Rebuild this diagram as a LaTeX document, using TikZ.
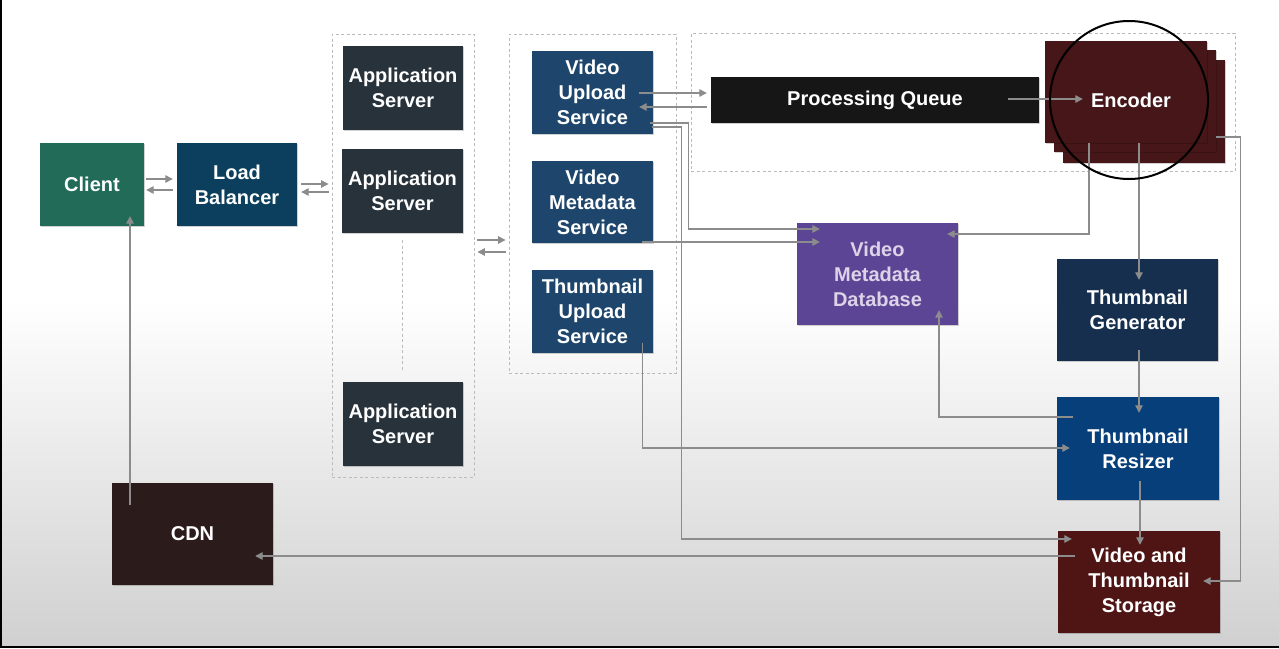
\documentclass[tikz,border=0pt]{standalone}
\usepackage{fontspec}
\setmainfont{Liberation Sans}
\usetikzlibrary{arrows.meta,calc,shadows}
\definecolor{cClient}{HTML}{216B58}
\definecolor{cLB}{HTML}{0B3F5D}
\definecolor{cApp}{HTML}{27323A}
\definecolor{cSvc}{HTML}{1E466C}
\definecolor{cPQ}{HTML}{161616}
\definecolor{cEnc}{HTML}{461619}
\definecolor{cDB}{HTML}{5D4595}
\definecolor{cDBtext}{HTML}{DCD3E8}
\definecolor{cTG}{HTML}{162F4F}
\definecolor{cTR}{HTML}{073F7A}
\definecolor{cVTS}{HTML}{4F1515}
\definecolor{cCDN}{HTML}{2B1B1B}
\definecolor{cLine}{HTML}{8C8C8C}
\definecolor{cDash}{HTML}{BBBBBB}
\definecolor{cBot}{HTML}{D0D0D0}
\begin{document}
\begin{tikzpicture}[x=1pt,y=-1pt,
  sz/.style 2 args={minimum width=#1pt, minimum height=#2pt},
  lbl/.style={text=white, font=\fontsize{20}{25}\selectfont\bfseries, align=center},
  blk/.style={fill=#1, lbl, inner sep=0pt,
    general shadow={fill=black, opacity=0.18, shadow xshift=0.8pt, shadow yshift=-0.8pt}},
  dbox/.style={draw=cDash, line width=0.9pt, dash pattern=on 3pt off 2.5pt, inner sep=0pt},
  dline/.style={draw=cDash, line width=0.9pt, dash pattern=on 3pt off 2.5pt},
  arr/.style={draw=cLine, line width=1.3pt, -{Triangle[length=7.5pt,width=7.5pt]}}
]
\useasboundingbox (0,0) rectangle (1279,648);
% background
\fill[white] (0,0) rectangle (1279,648);
\shade[top color=white, bottom color=cBot] (0,300) rectangle (1279,646);
\fill[black] (0,0) rectangle (2,648);
\fill[black] (0,645.5) rectangle (1279,648);

% dashed groups
\node[dbox, sz={142}{443}] (appbox) at (403,255.5) {};
\node[dbox, sz={167}{339}] (svcbox) at (592.5,203.5) {};
\node[dbox, sz={544}{138}] (encbox) at (963,102.5) {};

% boxes
\node[blk=cClient, sz={104}{83}] (client) at (92,184.5) {Client};
\node[blk=cLB, sz={120}{83}] (lb) at (237,184.5) {Load\\Balancer};
\node[blk=cApp, sz={120}{84}] (as1) at (403,88) {Application\\Server};
\node[blk=cApp, sz={121}{84}] (as2) at (402.5,191) {Application\\Server};
\node[blk=cApp, sz={120}{84}] (as3) at (403,424) {Application\\Server};
\draw[dline] ($(as2.south)+(-0.5,7)$) -- ($(as3.north)+(-1,-12)$);

\node[blk=cSvc, sz={121}{83}] (vus) at (592.5,92.5) {Video\\Upload\\Service};
\node[blk=cSvc, sz={121}{82}] (vms) at (592.5,202) {Video\\Metadata\\Service};
\node[blk=cSvc, sz={121}{83}] (tus) at (592.5,311.5) {Thumbnail\\Upload\\Service};

\node[blk=cPQ, sz={328}{46}] (pq) at (875,100) {Processing Queue};

\node[blk=cEnc, sz={162}{103}] (encC) at (1144,111.5) {};
\node[blk=cEnc, sz={162}{102}] (encB) at (1135,101) {};
\node[blk=cEnc, sz={162}{102}] (encA) at (1126,92) {};
\node[lbl, inner sep=0pt] (enc) at (1131,100) {Encoder};

\node[blk=cDB, text=cDBtext, sz={161}{102}] (vmdb) at (877.5,274) {Video\\Metadata\\Database};
\node[blk=cTG, sz={161}{102}] (tg) at (1137.5,310) {Thumbnail\\Generator};
\node[blk=cTR, sz={162}{103}] (tr) at (1138,448.5) {Thumbnail\\Resizer};
\node[blk=cVTS, sz={162}{102}] (vts) at (1139,582) {Video and\\Thumbnail\\Storage};
\node[blk=cCDN, sz={161}{102}] (cdn) at (192.5,534) {CDN};

% connectors
\draw[arr] ($(client.east)+(2,-5.5)$) -- ($(lb.west)+(-4,-5.5)$);
\draw[arr] ($(lb.west)+(-4,5.5)$) -- ($(client.east)+(2,5.5)$);
\draw[arr] ($(lb.east)+(4,-0.5)$) -- ($(appbox.west)+(-3,-71.5)$);
\draw[arr] ($(appbox.west)+(-3,-63.5)$) -- ($(lb.east)+(4,7.5)$);
\draw[arr] ($(appbox.east)+(3,-15.5)$) -- ($(svcbox.west)+(-3,36.5)$);
\draw[arr] ($(svcbox.west)+(-3,48.5)$) -- ($(appbox.east)+(3,-3.5)$);
\draw[arr] ($(vus.east)+(-14,0.5)$) -- ($(pq.west)+(-4,-7)$);
\draw[arr] ($(pq.west)+(-4,7)$) -- ($(vus.east)+(-14,14.5)$);
\draw[arr] ($(vus.east)+(-3,30.5)$) -- ++(38,0) |- ($(vmdb.west)+(23,-45)$);
\draw[arr] ($(vus.east)+(-1,34.5)$) -- ++(29,0) |- ($(vts.west)+(14,-43)$);
\draw[arr] ($(vms.east)+(-11,40)$) -- ($(vmdb.west)+(23,-32)$);
\draw[arr] ($(pq.east)+(-31,-1)$) -- ($(enc.west)+(-8,-1)$);
\draw[arr] ($(encA.south)+(-37,0)$) |- ($(vmdb.east)+(-11,-40)$);
\draw[arr] ($(encA.south)+(13,0)$) -- ($(tg.north)+(1.5,21)$);
\draw[arr] ($(encA.east)+(9,45)$) -- ++(24,0) |- ($(vts.east)+(-17,-1)$);
\draw[arr] ($(tg.south)+(1.5,-11)$) -- ($(tr.north)+(1,16)$);
\draw[arr] ($(tr.south)+(2,-19)$) -- ($(vts.north)+(1,14)$);
\draw[arr] ($(tr.west)+(16,-31.5)$) -| ($(vmdb.south)+(61.5,-15)$);
\draw[arr] ($(tus.east)+(-11,31.5)$) |- ($(tr.west)+(13,-0.5)$);
\draw[arr] ($(vts.west)+(17,-26)$) -- ($(cdn.east)+(-18,22)$);
\draw[arr] ($(cdn.north)+(-62.5,22)$) -- ($(client.south)+(38,-10)$);

% highlight ring
\node[circle, draw=black, line width=2pt, minimum size=158pt, inner sep=0pt] (ring) at (1129,100) {};
\end{tikzpicture}
\end{document}
